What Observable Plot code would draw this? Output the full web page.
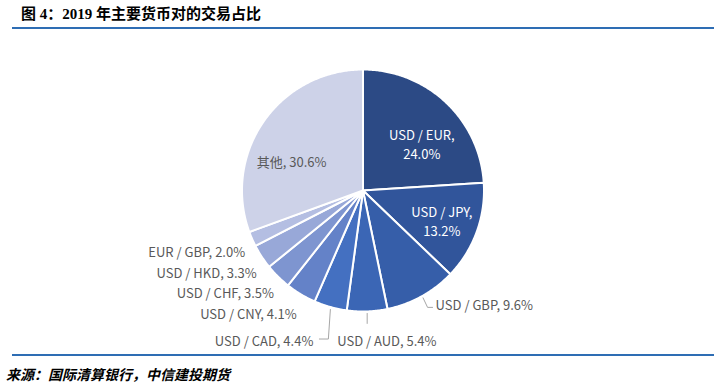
<!DOCTYPE html>
<html><head><meta charset="utf-8">
<script src="https://cdn.jsdelivr.net/npm/d3@7"></script>
<script src="https://cdn.jsdelivr.net/npm/@observablehq/plot@0.6"></script>
<style>
body{margin:0;background:#fff;}
#wrap{position:relative;width:724px;height:387px;overflow:hidden;background:#fff;}
#title{position:absolute;left:21px;top:4px;font:bold 15px/20px "Liberation Serif","Noto Sans CJK SC",serif;color:#000;white-space:nowrap;}
.rule{position:absolute;left:12px;width:702px;height:2px;background:#2E6DB4;}
#source{position:absolute;left:6px;top:364px;font:italic bold 14px/20px "Noto Sans CJK SC",sans-serif;color:#000;white-space:nowrap;}
#chart{position:absolute;left:0;top:30px;}
</style></head><body>
<div id="wrap">
<div id="title">图 4：2019 年主要货币对的交易占比</div>
<div class="rule" style="top:27px"></div>
<div id="chart"></div>
<div class="rule" style="top:354px"></div>
<div id="source">来源：国际清算银行，中信建投期货</div>
</div>
<script>
// ---- data ----
const pairs  = ["USD / EUR","USD / JPY","USD / GBP","USD / AUD","USD / CAD","USD / CNY","USD / CHF","USD / HKD","EUR / GBP","其他"];
const shares = [24.0, 13.2, 9.6, 5.4, 4.4, 4.1, 3.5, 3.3, 2.0, 30.6];
const colors = ["#2C4A85","#31559B","#365EA9","#3B66B5","#4470C1","#6482C8","#7E95D0","#98A8D8","#B4BEE2","#CDD2E8"];

// ---- label layout (pixel offsets from each slice's mid-angle anchor) ----
const labelLayout = [
  {mode:"inside", wrap:true,  rf:0.65, dx:5,   dy:10, color:"#fff"},
  {mode:"inside", wrap:true,  rf:0.65, dx:5,   dy:3,  color:"#fff"},
  {mode:"outside", rf:1, anchor:"start", dx:14,  dy:7,  leader:[[1.5,1.5],[6,11],[11,11]]},
  {mode:"outside", rf:1, anchor:"start", dx:-30, dy:28, leader:[[0,2],[0,12]]},
  {mode:"outside", rf:1, anchor:"end",   dx:-17, dy:33, leader:[[0,2.5],[-2,32],[-11,32]]},
  {mode:"outside", rf:1, anchor:"end",   dx:-4,  dy:18},
  {mode:"outside", rf:1, anchor:"end",   dx:-4,  dy:15},
  {mode:"outside", rf:1, anchor:"end",   dx:-5,  dy:15},
  {mode:"outside", rf:1, anchor:"end",   dx:-7,  dy:12},
  {mode:"inside", wrap:false, rf:0.65, dx:-7,  dy:15, color:"#595959"}
];

const W = 724, H = 322, cx = 362.5, cy = 160, R = 121;

const arcs = d3.pie().sort(null).value(d => d)(shares);
const slices = arcs.map((a, i) => ({name: pairs[i], value: shares[i], a0: a.startAngle, a1: a.endAngle, mid: (a.startAngle + a.endAngle) / 2, layout: labelLayout[i]}));

// polygon points for each slice (unit-circle coords, y pointing down)
const polyPts = [];
for (const s of slices) {
  polyPts.push({name: s.name, x: 0, y: 0});
  const n = Math.max(4, Math.ceil((s.a1 - s.a0) / 0.01));
  for (let k = 0; k <= n; k++) {
    const t = s.a0 + (s.a1 - s.a0) * k / n;
    polyPts.push({name: s.name, x: Math.sin(t), y: -Math.cos(t)});
  }
  polyPts.push({name: s.name, x: 0, y: 0});
}

const fmt = v => v.toFixed(1) + "%";
const labels = slices.map(s => {
  const L = s.layout;
  return {
    text: L.mode === "inside" && L.wrap ? `${s.name},\n${fmt(s.value)}` : `${s.name}, ${fmt(s.value)}`,
    x: L.rf * Math.sin(s.mid) + L.dx / R,
    y: -L.rf * Math.cos(s.mid) + L.dy / R,
    anchor: L.mode === "inside" ? "middle" : L.anchor,
    color: L.color || "#595959"
  };
});

const leaderPts = [];
slices.forEach((s, i) => {
  const L = s.layout;
  if (!L.leader) return;
  const bx = Math.sin(s.mid), by = -Math.cos(s.mid);
  for (const [dx, dy] of L.leader) leaderPts.push({name: s.name, x: bx + dx / R, y: by + dy / R});
});

const txtFont = '"Noto Sans CJK SC", "Noto Sans", sans-serif';
const textMark = anchor => Plot.text(labels.filter(d => d.anchor === anchor), {x: "x", y: "y", text: "text", fill: d => d.color, fontSize: 13, lineHeight: 1.5, textAnchor: anchor});

const chart = Plot.plot({
  width: W, height: H,
  margin: 0,
  style: {background: "transparent", fontFamily: txtFont},
  x: {domain: [-1, 1], range: [cx - R, cx + R], axis: null},
  y: {domain: [-1, 1], range: [cy - R, cy + R], axis: null},
  color: {type: "ordinal", domain: pairs, range: colors},
  marks: [
    Plot.line(polyPts, {x: "x", y: "y", z: "name", fill: "name", stroke: "#fff", strokeWidth: 2, strokeLinejoin: "round", curve: "linear"}),
    Plot.line(leaderPts, {x: "x", y: "y", z: "name", stroke: "#A6A6A6", strokeWidth: 1}),
    textMark("middle"),
    textMark("end"),
    textMark("start")
  ]
});
document.getElementById("chart").appendChild(chart);
</script>
</body></html>
